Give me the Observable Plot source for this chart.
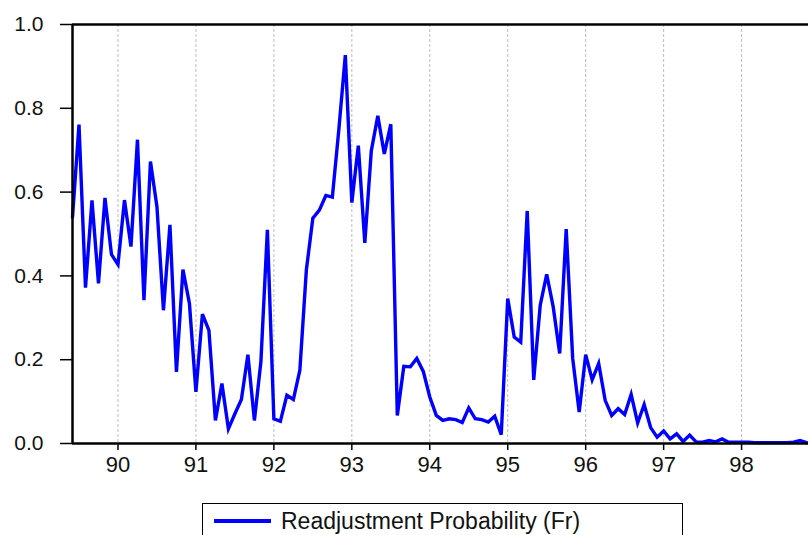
<!DOCTYPE html>
<html>
<head>
<meta charset="utf-8">
<script src="https://cdn.jsdelivr.net/npm/d3@7"></script>
<script src="https://cdn.jsdelivr.net/npm/@observablehq/plot@0.6"></script>
<style>
  html, body { margin: 0; padding: 0; background: #fff; }
  #wrap { position: relative; width: 808px; height: 535px; overflow: hidden; font-family: Arial, "Liberation Sans", sans-serif; }
  #legend { position: absolute; left: 202px; top: 503px; width: 481px; height: 50px; border: 1px solid #000; box-sizing: border-box; background: #fff; }
  #legend .swatch { position: absolute; left: 11px; top: 15px; width: 57px; height: 3.5px; background: #0000ff; }
  #legend .label { position: absolute; left: 78px; top: 4px; font-size: 23px; color: #111; white-space: nowrap; }
</style>
</head>
<body>
<div id="wrap">
  <div id="chart"></div>
  <div id="legend"><div class="swatch"></div><div class="label">Readjustment Probability (Fr)</div></div>
</div>
<script>
// Series: monthly readjustment probability, first observation June 1989
const startYear = 89;
const startMonth = 6;
const values1989 = [0.540, 0.761, 0.372, 0.580, 0.382, 0.586, 0.451];
const values1990 = [0.427, 0.581, 0.470, 0.725, 0.342, 0.673, 0.565, 0.318, 0.522, 0.171, 0.415, 0.334];
const values1991 = [0.123, 0.309, 0.270, 0.055, 0.143, 0.035, 0.071, 0.105, 0.212, 0.055, 0.195, 0.510];
const values1992 = [0.059, 0.053, 0.115, 0.105, 0.175, 0.414, 0.538, 0.557, 0.592, 0.588, 0.749, 0.927];
const values1993 = [0.575, 0.711, 0.479, 0.699, 0.782, 0.691, 0.762, 0.067, 0.184, 0.183, 0.203, 0.172];
const values1994 = [0.111, 0.067, 0.055, 0.059, 0.057, 0.050, 0.085, 0.059, 0.057, 0.051, 0.065, 0.021];
const values1995 = [0.346, 0.254, 0.242, 0.555, 0.152, 0.330, 0.404, 0.326, 0.215, 0.512, 0.203, 0.075];
const values1996 = [0.212, 0.152, 0.191, 0.103, 0.067, 0.083, 0.069, 0.117, 0.049, 0.093, 0.038, 0.015];
const values1997 = [0.030, 0.011, 0.023, 0.005, 0.020, 0.004, 0.003, 0.007, 0.004, 0.011, 0.003, 0.003];
const values1998 = [0.003, 0.003, 0.002, 0.002, 0.002, 0.002, 0.002, 0.002, 0.003, 0.007, 0.002];

const xTicks = [90, 91, 92, 93, 94, 95, 96, 97, 98];
const yTicks = [0, 0.2, 0.4, 0.6, 0.8, 1.0];
const seriesName = "Readjustment Probability (Fr)";

const allValues = [].concat(values1989, values1990, values1991, values1992, values1993,
  values1994, values1995, values1996, values1997, values1998);
const data = allValues.map((v, i) => ({
  t: startYear + (startMonth - 1 + i) / 12,
  v
}));

const xMin = startYear + (startMonth - 1) / 12;
const xMax = 98 + 10.3 / 12;

const chart = Plot.plot({
  width: 808,
  height: 490,
  marginLeft: 72,
  marginRight: 0,
  marginTop: 24,
  marginBottom: 47,
  style: { fontFamily: "Arial, 'Liberation Sans', sans-serif", background: "#fff", overflow: "visible" },
  x: { domain: [xMin, xMax], ticks: xTicks, tickFormat: d => String(d) },
  y: { domain: [0, 1], ticks: yTicks, tickFormat: d => d.toFixed(1) },
  marks: [
    Plot.ruleX(xTicks, { stroke: "#bdbdbd", strokeWidth: 1, strokeDasharray: "3,2" }),
    Plot.line(data, { x: "t", y: "v", stroke: "#0000ff", strokeWidth: 3.4, strokeLinejoin: "miter", strokeMiterlimit: 4 }),
    Plot.ruleY([1], { stroke: "#000", strokeWidth: 2.5 }),
    Plot.ruleY([0], { stroke: "#000", strokeWidth: 2.5 }),
    Plot.ruleX([xMin], { stroke: "#000", strokeWidth: 2.5 }),
    Plot.axisX({ ticks: xTicks, tickFormat: d => String(d), tickSize: 7, tickPadding: 6, fontSize: 22, stroke: "#000", strokeWidth: 1.5, color: "#111", label: null }),
    Plot.axisY({ ticks: yTicks, tickFormat: d => d.toFixed(1), tickSize: 12, tickPadding: 17, fontSize: 21, stroke: "#000", strokeWidth: 1.5, color: "#111", label: null })
  ]
});
document.getElementById("chart").appendChild(chart);
</script>
</body>
</html>
